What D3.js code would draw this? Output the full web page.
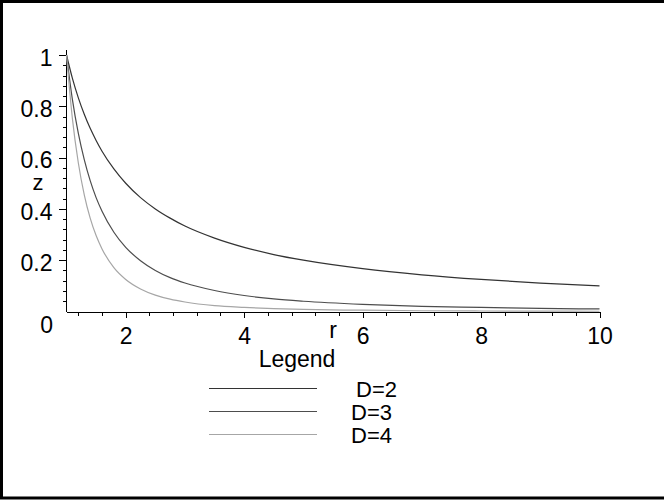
<!DOCTYPE html>
<html lang="en">
<head>
<meta charset="utf-8">
<title>z vs r</title>
<script src="https://cdn.jsdelivr.net/npm/d3@7/dist/d3.min.js"></script>
<style>
    body { margin: 0; background: #fff; overflow: hidden; }
    svg { display: block; }
    svg text { font-family: "Liberation Sans", Arial, sans-serif; font-size: 23px; fill: #000; }
    .axis path, .axis line { stroke: #000; stroke-width: 1; shape-rendering: crispEdges; }
    .curve { fill: none; stroke-width: 1.2; }
</style>
</head>
<body>
<div id="chart"></div>
<script>

// values
var r_values = [1, 1.1, 1.2, 1.3, 1.4, 1.5, 1.6, 1.8, 2, 2.25, 2.5, 2.75, 3, 3.5, 4, 4.5, 5, 6, 7, 8, 9, 10];
var z_D2 = [1, .909, .833, .769, .714, .667, .625, .556, .5, .444, .4, .364, .333, .286, .25, .222, .2, .167, .143, .125, .111, .1];
var z_D3 = [1, .826, .694, .592, .510, .444, .391, .309, .25, .198, .16, .132, .111, .082, .0625, .049, .04, .028, .020, .016, .012, .01];
var z_D4 = [1, .751, .579, .455, .364, .296, .244, .171, .125, .088, .064, .048, .037, .023, .016, .011, .008, .005, .003, .002, .0014, .001];

var series_names = ["D=2", "D=3", "D=4"];
var series_colors = ["#333333", "#4d4d4d", "#a6a6a6"];
var x_ticks = [2, 4, 6, 8, 10];
var y_ticks = [0.2, 0.4, 0.6, 0.8, 1];

var width = 664, height = 500;

var svg = d3.select("#chart").append("svg")
    .attr("width", width)
    .attr("height", height);

// frame: top, left and bottom edges only
svg.append("path")
    .attr("d", "M664,1.5H1.5V498H664")
    .attr("fill", "none")
    .attr("stroke", "#000")
    .attr("stroke-width", 3);

var x_scale = d3.scaleLinear().domain([1, 10]).range([66.5, 599.5]);
var y_scale = d3.scaleLinear().domain([0, 1]).range([311.5, 55]);

// minor ticks
svg.append("g")
    .attr("class", "axis")
    .attr("transform", "translate(66.5,0)")
    .call(d3.axisLeft(y_scale).tickValues(d3.range(0.04, 1.001, 0.04)).tickSize(4).tickFormat(""))
    .call(function(g) { g.select(".domain").remove(); });

svg.append("g")
    .attr("class", "axis")
    .attr("transform", "translate(0,311.5)")
    .call(d3.axisBottom(x_scale).tickValues(d3.range(1.2, 10.001, 0.4)).tickSize(4).tickFormat(""))
    .call(function(g) { g.select(".domain").remove(); });

// y axis
var yAxis = svg.append("g")
    .attr("class", "axis")
    .attr("transform", "translate(66.5,0)")
    .call(d3.axisLeft(y_scale).tickValues(y_ticks).tickSize(8).tickSizeOuter(0).tickPadding(6)
        .tickFormat(function(d) { return d === 1 ? "1" : d3.format(".1f")(d); }));
yAxis.select(".domain").attr("d", "M0,50V311.5");
yAxis.selectAll("text").style("font-size", "23px").attr("dy", "0.45em");

// x axis
var xAxis = svg.append("g")
    .attr("class", "axis")
    .attr("transform", "translate(0,311.5)")
    .call(d3.axisBottom(x_scale).tickValues(x_ticks).tickSize(6).tickSizeOuter(0).tickPadding(10));
xAxis.selectAll("text").style("font-size", "23px");

// zero label at the corner
svg.append("text")
    .attr("x", 53).attr("y", 333)
    .attr("text-anchor", "end")
    .text("0");

// axis titles
svg.append("text").attr("x", 38).attr("y", 190).attr("text-anchor", "middle")
    .style("font-size", "22px").text("z");
svg.append("text").attr("x", 333).attr("y", 338).attr("text-anchor", "middle").text("r");

// curves
var all_z = [z_D2, z_D3, z_D4];
var line = d3.line()
    .x(function(d) { return x_scale(d[0]); })
    .y(function(d) { return y_scale(d[1]); })
    .curve(d3.curveMonotoneX);

all_z.forEach(function(zs, i) {
    svg.append("path")
        .datum(r_values.map(function(r, j) { return [r, zs[j]]; }))
        .attr("class", "curve")
        .attr("stroke", series_colors[i])
        .attr("d", line);
});

// legend
svg.append("text").attr("x", 297).attr("y", 367).attr("text-anchor", "middle").text("Legend");

var legend_y = d3.scalePoint().domain(series_names).range([388.5, 434.5]);
var label_x = [356, 351, 351];

series_names.forEach(function(name, i) {
    svg.append("line")
        .attr("x1", 209).attr("x2", 317)
        .attr("y1", legend_y(name)).attr("y2", legend_y(name))
        .attr("stroke", series_colors[i])
        .attr("stroke-width", 1.2);
    svg.append("text")
        .attr("x", label_x[i])
        .attr("y", legend_y(name) + 8.5)
        .style("font-size", "22px")
        .text(name);
});

</script>
</body>
</html>
